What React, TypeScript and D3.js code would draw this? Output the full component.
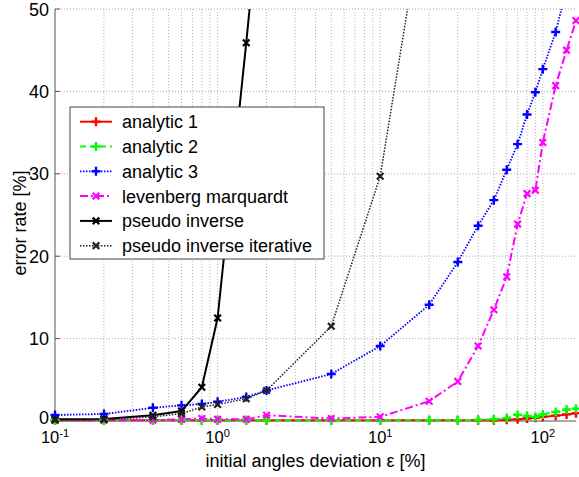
import React from 'react';
import * as d3 from 'd3';

// epsilon values (%), log axis
const xValues = [0.1, 0.2, 0.4, 0.6, 0.8, 1, 1.5, 2, 5, 10, 20, 30, 40, 50, 60, 70, 80, 90, 100, 120, 140, 160];

const analytic1 = [0.1, 0.1, 0.1, 0.1, 0.1, 0.1, 0.1, 0.1, 0.1, 0.1, 0.1, 0.1, 0.1, 0.1, 0.15, 0.2, 0.3, 0.4, 0.5, 0.65, 0.8, 0.95];
const analytic2 = [0.1, 0.1, 0.1, 0.1, 0.1, 0.1, 0.1, 0.1, 0.1, 0.1, 0.1, 0.1, 0.15, 0.2, 0.35, 0.75, 0.6, 0.5, 0.8, 1.1, 1.4, 1.5];
const analytic3 = [0.73, 0.85, 1.6, 1.9, 2.06, 2.34, 2.9, 3.7, 5.7, 9.1, 14.1, 19.3, 23.7, 26.8, 30.5, 33.6, 37.2, 39.9, 42.7, 47.2, 52.5, null];
const levenberg = [0.1, 0.1, 0.1, 0.2, 0.3, 0.2, 0.2, 0.7, 0.3, 0.5, 2.4, 4.8, 9.1, 13.5, 17.5, 23.9, 27.6, 28.0, 33.8, 40.7, 45.0, 48.6];
const pseudoInv = [0.2, 0.25, 0.7, 1.2, 4.1, 12.5, 45.9, 71, null, null, null, null, null, null, null, null, null, null, null, null, null, null];
const pseudoIter = [0.1, 0.15, 0.5, 0.9, 1.7, 2.0, 2.7, 3.7, 11.5, 29.7, 66, null, null, null, null, null, null, null, null, null, null, null];

const yTicks = [0, 10, 20, 30, 40, 50];
const xMajor = [0.1, 1, 10, 100];
const xExp = ['-1', '0', '1', '2'];

type Series = {
  name: string;
  values: (number | null)[];
  color: string;
  dash: string | undefined;
  width: number;
  marker: 'plus' | 'cross';
};

const series: Series[] = [
  { name: 'analytic 1', values: analytic1, color: '#ff0000', dash: undefined, width: 2, marker: 'plus' },
  { name: 'analytic 2', values: analytic2, color: '#00ff00', dash: '6,4', width: 2, marker: 'plus' },
  { name: 'analytic 3', values: analytic3, color: '#0000ff', dash: '1.5,1.5', width: 1.8, marker: 'plus' },
  { name: 'levenberg marquardt', values: levenberg, color: '#ff00ff', dash: '8,3,2,3', width: 2, marker: 'cross' },
  { name: 'pseudo inverse', values: pseudoInv, color: '#000000', dash: undefined, width: 2, marker: 'cross' },
  { name: 'pseudo inverse iterative', values: pseudoIter, color: '#222222', dash: '1.5,1.5', width: 1.5, marker: 'cross' },
];

const W = 579;
const H = 477;
const left = 55;
const right = 576;
const top = 9;
const bottom = 421;
const font = 'Liberation Sans, Arial, Helvetica, sans-serif';

const Marker = ({ type, x, y, color }: { type: string; x: number; y: number; color: string }) => {
  if (type === 'plus') {
    const s = 4.5;
    return (
      <path d={`M${x - s},${y}H${x + s}M${x},${y - s}V${y + s}`} stroke={color} strokeWidth={2.4} fill="none" />
    );
  }
  const s = 3.3;
  return (
    <path
      d={`M${x - s},${y - s}L${x + s},${y + s}M${x - s},${y + s}L${x + s},${y - s}`}
      stroke={color}
      strokeWidth={2.2}
      fill="none"
    />
  );
};

export default function App() {
  const x = d3.scaleLog().domain([0.1, 160]).range([left, right]);
  const y = d3.scaleLinear().domain([0, 50]).range([bottom, top]);

  const minor: number[] = [];
  [0.1, 1, 10, 100].forEach((d) => {
    for (let k = 1; k <= 9; k++) {
      const v = d * k;
      if (v > 0.1 && v <= 160) minor.push(v);
    }
  });

  const line = d3
    .line<[number, number | null]>()
    .defined((d) => d[1] !== null)
    .x((d) => x(d[0]))
    .y((d) => y(d[1] as number));

  const legendX = 70;
  const legendY = 107;
  const rowH = 24.8;

  return (
    <svg width={W} height={H} style={{ position: 'absolute', left: 0, top: 0, background: '#fff' }}>
      <defs>
        <clipPath id="plotClip">
          <rect x={left - 4} y={top} width={right - left + 8} height={bottom - top + 3} />
        </clipPath>
      </defs>
      <rect x={0} y={0} width={W} height={H} fill="#fff" />

      {/* grid */}
      {yTicks.slice(1).map((t) => (
        <line key={'hy' + t} x1={left} x2={right} y1={y(t)} y2={y(t)} stroke="#a8a8a8" strokeWidth={1} strokeDasharray="1,2" />
      ))}
      {minor.map((v) => (
        <line key={'vx' + v} x1={x(v)} x2={x(v)} y1={top} y2={bottom} stroke="#b4b4b4" strokeWidth={1} strokeDasharray="1,2" />
      ))}

      {/* axes */}
      <line x1={left} x2={left} y1={top} y2={bottom} stroke="#555" strokeWidth={1} />
      <line x1={left} x2={right} y1={bottom} y2={bottom} stroke="#555" strokeWidth={1} />
      {yTicks.map((t) => (
        <line key={'ty' + t} x1={left} x2={left + 5} y1={y(t)} y2={y(t)} stroke="#555" />
      ))}
      {xMajor.map((t) => (
        <line key={'tx' + t} x1={x(t)} x2={x(t)} y1={bottom} y2={bottom - 5} stroke="#555" />
      ))}

      {/* series */}
      <g clipPath="url(#plotClip)">
        {series.map((s) => (
          <path
            key={s.name}
            d={line(xValues.map((v, i) => [v, s.values[i]] as [number, number | null])) || ''}
            fill="none"
            stroke={s.color}
            strokeWidth={s.width}
            strokeDasharray={s.dash}
          />
        ))}
      </g>
      {series.map((s) =>
        xValues.map((v, i) => {
          const val = s.values[i];
          if (val === null || val > 50) return null;
          return <Marker key={s.name + i} type={s.marker} x={x(v)} y={y(val)} color={s.color} />;
        })
      )}

      {/* tick labels */}
      {yTicks.map((t) => (
        <text key={'ly' + t} x={49} y={y(t) + (t === 0 ? 3 : 6.5)} textAnchor="end" fontFamily={font} fontSize={18} fill="#000">
          {t}
        </text>
      ))}
      {xMajor.map((t, i) => (
        <text key={'lx' + t} x={x(t)} y={443} textAnchor="middle" fontFamily={font} fontSize={16.5} fill="#000">
          10
          <tspan dy={-6} fontSize={11}>
            {xExp[i]}
          </tspan>
        </text>
      ))}

      {/* axis titles */}
      <text x={(left + right) / 2} y={467} textAnchor="middle" fontFamily={font} fontSize={18} fill="#000">
        initial angles deviation ε [%]
      </text>
      <text
        transform={`translate(26,223) rotate(-90)`}
        textAnchor="middle"
        fontFamily={font}
        fontSize={18}
        fill="#000"
      >
        error rate [%]
      </text>

      {/* legend */}
      <rect x={legendX} y={legendY} width={254} height={152} fill="#fff" stroke="#444" strokeWidth={1} />
      {series.map((s, i) => {
        const cy = legendY + 14.7 + i * rowH;
        return (
          <g key={'lg' + s.name}>
            <line x1={80} x2={112} y1={cy} y2={cy} stroke={s.color} strokeWidth={s.width} strokeDasharray={s.dash} />
            <Marker type={s.marker} x={96} y={cy} color={s.color} />
            <text x={122} y={cy + 6.5} fontFamily={font} fontSize={18} fill="#000">
              {s.name}
            </text>
          </g>
        );
      })}
    </svg>
  );
}
